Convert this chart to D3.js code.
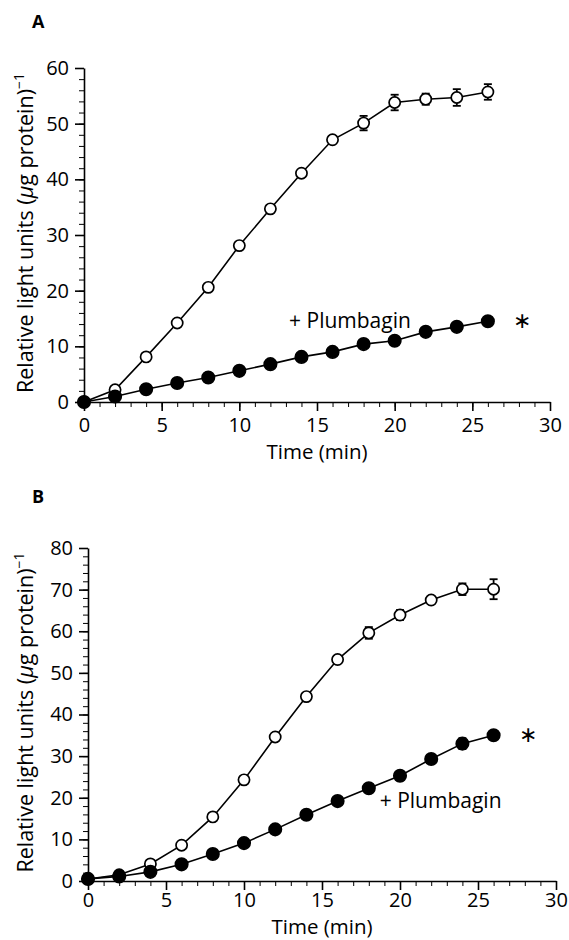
<!DOCTYPE html>
<html>
<head>
<meta charset="utf-8">
<script src="https://cdn.jsdelivr.net/npm/d3@7"></script>
<style>
  body { margin: 0; background: #fff; }
  svg { display: block; }
  text { font-family: "Open Sans", "Noto Sans", sans-serif; fill: #000; }
</style>
</head>
<body>
<div id="chart"></div>
<script>
// Sampling times (min)
var times = [0, 2, 4, 6, 8, 10, 12, 14, 16, 18, 20, 22, 24, 26];
var xTicks = [0, 5, 10, 15, 20, 25, 30];
var yTicksA = [0, 10, 20, 30, 40, 50, 60];
var yTicksB = [0, 10, 20, 30, 40, 50, 60, 70, 80];

// Panel A values (relative light units per ug protein)
var controlA = [0, 2.2, 8.1, 14.2, 20.6, 28.1, 34.7, 41.1, 47.1, 50.1, 53.8, 54.4, 54.7, 55.7];
var controlAErr = [0, 0, 0, 0, 0, 0, 0, 0, 0.4, 1.3, 1.4, 1.0, 1.5, 1.4];
var plumbaginA = [0, 1.0, 2.3, 3.4, 4.4, 5.6, 6.8, 8.1, 9.0, 10.4, 11.0, 12.6, 13.5, 14.5];
var plumbaginAErr = [0, 0, 0, 0, 0, 0, 0, 0, 0, 0, 0, 0, 0, 0];

// Panel B values
var controlB = [0.5, 1.5, 4.1, 8.6, 15.4, 24.3, 34.6, 44.3, 53.2, 59.6, 63.9, 67.5, 70.1, 70.1];
var controlBErr = [0, 0, 0, 0, 0, 0, 0, 0, 0, 1.4, 1.2, 0.6, 1.4, 2.4];
var plumbaginB = [0.5, 1.1, 2.2, 4.0, 6.5, 9.1, 12.4, 15.9, 19.2, 22.3, 25.3, 29.3, 33.0, 35.0];
var plumbaginBErr = [0, 0, 0, 0, 0, 0, 0, 0, 0, 0, 1.1, 0, 1.3, 0.8];

var width = 569, height = 940;

var svg = d3.select("#chart").append("svg")
    .attr("width", width)
    .attr("height", height);

svg.append("rect").attr("width", width).attr("height", height).attr("fill", "#fff");

// Panel layout settings
var panels = [
    {
        letter: "A", letterPos: [32, 28],
        left: 84, right: 550, top: 68, bottom: 402,
        yMax: 60, yTicks: yTicksA,
        control: controlA, controlErr: controlAErr,
        plumbagin: plumbaginA, plumbaginErr: plumbaginAErr,
        labelAt: [13.2, 13.3], xPad: 7, titleDrop: 57
    },
    {
        letter: "B", letterPos: [32, 503],
        left: 88, right: 556, top: 548, bottom: 881,
        yMax: 80, yTicks: yTicksB,
        control: controlB, controlErr: controlBErr,
        plumbagin: plumbaginB, plumbaginErr: plumbaginBErr,
        labelAt: [18.7, 17.5], xPad: 3, titleDrop: 53
    }
];

function drawPanel(p) {
    var xScale = d3.scaleLinear().domain([0, 30]).range([p.left, p.right]);
    var yScale = d3.scaleLinear().domain([0, p.yMax]).range([p.bottom, p.top]);

    var g = svg.append("g").attr("class", "panel-" + p.letter);

    // Panel letter
    g.append("text")
        .attr("x", p.letterPos[0])
        .attr("y", p.letterPos[1])
        .attr("font-size", 18)
        .attr("font-weight", "bold")
        .text(p.letter);

    // Minor ticks first, then major axes on top
    g.append("g")
        .attr("transform", "translate(0," + p.bottom + ")")
        .call(d3.axisBottom(xScale).tickValues(d3.range(0, 31, 1)).tickSize(5).tickSizeOuter(0).tickFormat(""))
        .call(function (a) { a.select(".domain").remove(); });

    g.append("g")
        .attr("transform", "translate(" + p.left + ",0)")
        .call(d3.axisLeft(yScale).tickValues(d3.range(0, p.yMax + 1, 2)).tickSize(5).tickSizeOuter(0).tickFormat(""))
        .call(function (a) { a.select(".domain").remove(); });

    var xAxis = g.append("g")
        .attr("transform", "translate(0," + p.bottom + ")")
        .call(d3.axisBottom(xScale).tickValues(xTicks).tickSize(9).tickSizeOuter(0).tickPadding(p.xPad));

    var yAxis = g.append("g")
        .attr("transform", "translate(" + p.left + ",0)")
        .call(d3.axisLeft(yScale).tickValues(p.yTicks).tickSize(9).tickSizeOuter(0).tickPadding(6));

    [xAxis, yAxis].forEach(function (a) {
        a.attr("font-family", null).attr("font-size", 20);
        a.selectAll("path, line").attr("stroke", "#000").attr("stroke-width", 1.6);
    });

    // Axis titles
    g.append("text")
        .attr("x", (p.left + p.right) / 2)
        .attr("y", p.bottom + p.titleDrop)
        .attr("text-anchor", "middle")
        .attr("font-size", 20.5)
        .text("Time (min)");

    var yTitle = g.append("text")
        .attr("transform", "translate(33," + ((p.top + p.bottom) / 2 - 2) + ") rotate(-90)")
        .attr("text-anchor", "middle")
        .attr("font-size", 21.5);
    yTitle.append("tspan").text("Relative light units (");
    yTitle.append("tspan").attr("font-style", "italic").text("\u03bc");
    yTitle.append("tspan").text("g protein)");
    yTitle.append("tspan").attr("font-size", 14).attr("dy", -9).text("\u22121");

    // Series
    var series = [
        { values: p.control, errors: p.controlErr, fill: "#fff", r: 5.6 },
        { values: p.plumbagin, errors: p.plumbaginErr, fill: "#000", r: 6.2 }
    ];

    var line = d3.line()
        .x(function (d, i) { return xScale(times[i]); })
        .y(function (d) { return yScale(d); });

    series.forEach(function (s) {
        g.append("path")
            .datum(s.values)
            .attr("d", line)
            .attr("fill", "none")
            .attr("stroke", "#000")
            .attr("stroke-width", 1.6);

        // Error bars (hidden behind the marker when small)
        var bars = g.append("g").selectAll(".err")
            .data(s.values.map(function (v, i) { return { t: times[i], v: v, e: s.errors[i] }; })
                .filter(function (d) { return d.e > 0; }))
            .enter().append("g").attr("class", "err");

        bars.append("line")
            .attr("x1", function (d) { return xScale(d.t); })
            .attr("x2", function (d) { return xScale(d.t); })
            .attr("y1", function (d) { return yScale(d.v - d.e); })
            .attr("y2", function (d) { return yScale(d.v + d.e); });
        [1, -1].forEach(function (sign) {
            bars.append("line")
                .attr("x1", function (d) { return xScale(d.t) - 4; })
                .attr("x2", function (d) { return xScale(d.t) + 4; })
                .attr("y1", function (d) { return yScale(d.v + sign * d.e); })
                .attr("y2", function (d) { return yScale(d.v + sign * d.e); });
        });
        bars.selectAll("line").attr("stroke", "#000").attr("stroke-width", 1.8);

        g.append("g").selectAll("circle")
            .data(s.values)
            .enter().append("circle")
            .attr("cx", function (d, i) { return xScale(times[i]); })
            .attr("cy", function (d) { return yScale(d); })
            .attr("r", s.r)
            .attr("fill", s.fill)
            .attr("stroke", "#000")
            .attr("stroke-width", 1.7);
    });

    // Series label and significance mark
    g.append("text")
        .attr("x", xScale(p.labelAt[0]))
        .attr("y", yScale(p.labelAt[1]))
        .attr("font-size", 21)
        .text("+ Plumbagin");

    var last = p.plumbagin[p.plumbagin.length - 1];
    g.append("text")
        .attr("x", xScale(times[times.length - 1] + 2.2))
        .attr("y", yScale(last) + 7)
        .attr("text-anchor", "middle")
        .attr("font-family", "DejaVu Sans")
        .attr("font-size", 22)
        .text("\u2217");
}

panels.forEach(drawPanel);
</script>
</body>
</html>
